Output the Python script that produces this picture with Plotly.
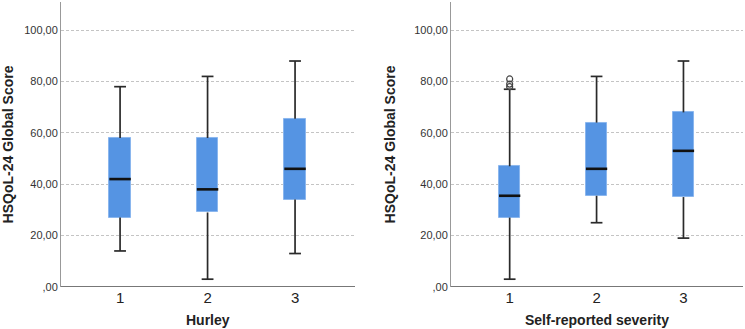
import plotly.graph_objects as go

# ---- data ----
groups = ["1", "2", "3"]
hurley_low = [14, 3, 13]
hurley_q1 = [27, 29, 34]
hurley_med = [42, 38, 46]
hurley_q3 = [58, 58, 65.5]
hurley_high = [78, 82, 88]
hurley_outliers = [[], [], []]

sev_low = [3, 25, 19]
sev_q1 = [27, 35.5, 35]
sev_med = [35.5, 46, 53]
sev_q3 = [47, 64, 68]
sev_high = [77, 82, 88]
sev_outliers = [[78, 79, 81], [], []]

ytick_vals = [0, 20, 40, 60, 80, 100]
ytick_text = [",00", "20,00", "40,00", "60,00", "80,00", "100,00"]

BOX_W = 0.245
CAP_W = 0.135
FILL = "#5594e3"
EDGE = "#8ab6ee"
WHISK = "#2a2a2a"

fig = go.Figure()

def add_panel(low, q1, med, q3, high, outl, xa, ya):
    xs = [i + 1 for i in range(len(groups))]
    wx, wy = [], []
    for x, lo, a, b, hi in zip(xs, low, q1, q3, high):
        wx += [x, x, None, x, x, None]
        wy += [lo, a, None, b, hi, None]
    fig.add_trace(go.Scatter(x=wx, y=wy, mode="lines", line=dict(color=WHISK, width=1.7),
                             xaxis=xa, yaxis=ya, showlegend=False, hoverinfo="skip"))
    cx, cy = [], []
    for x, lo, hi in zip(xs, low, high):
        cx += [x - CAP_W / 2, x + CAP_W / 2, None, x - CAP_W / 2, x + CAP_W / 2, None]
        cy += [lo, lo, None, hi, hi, None]
    fig.add_trace(go.Scatter(x=cx, y=cy, mode="lines", line=dict(color=WHISK, width=1.7),
                             xaxis=xa, yaxis=ya, showlegend=False, hoverinfo="skip"))
    fig.add_trace(go.Bar(x=xs, y=[b - a for a, b in zip(q1, q3)], base=q1, width=BOX_W,
                         marker=dict(color=FILL, line=dict(color=EDGE, width=1)),
                         xaxis=xa, yaxis=ya, showlegend=False, hoverinfo="skip"))
    mx, my = [], []
    for x, m in zip(xs, med):
        mx += [x - BOX_W / 2, x + BOX_W / 2, None]
        my += [m, m, None]
    fig.add_trace(go.Scatter(x=mx, y=my, mode="lines", line=dict(color="#111", width=2.6),
                             xaxis=xa, yaxis=ya, showlegend=False, hoverinfo="skip"))
    ox, oy = [], []
    for x, vals in zip(xs, outl):
        for v in vals:
            ox.append(x)
            oy.append(v)
    if ox:
        fig.add_trace(go.Scatter(x=ox, y=oy, mode="markers",
                                 marker=dict(symbol="circle-open", size=6, color="#444", line=dict(width=1.2)),
                                 xaxis=xa, yaxis=ya, showlegend=False, hoverinfo="skip"))

add_panel(hurley_low, hurley_q1, hurley_med, hurley_q3, hurley_high, hurley_outliers, "x", "y")
add_panel(sev_low, sev_q1, sev_med, sev_q3, sev_high, sev_outliers, "x2", "y2")

FONT = "Liberation Sans, Arial, sans-serif"
xcommon = dict(range=[0.325, 3.685], tickvals=[1, 2, 3], ticktext=groups, showgrid=False,
               zeroline=False, showline=False, ticks="", automargin=False,
               tickfont=dict(size=15, color="#222", family=FONT))
ycommon = dict(range=[0, 111], tickvals=ytick_vals, ticktext=ytick_text,
               showgrid=True, gridcolor="#c4c4c4", griddash="3px,2px", gridwidth=1,
               zeroline=True, zerolinecolor="#777", zerolinewidth=1.2,
               showline=True, linecolor="#999", linewidth=1, ticks="", automargin=False,
               tickfont=dict(size=11, color="#333", family=FONT))

XD1 = [0.0819, 0.4765]
XD2 = [0.6054, 0.9973]
YD = [0.128, 0.994]

fig.update_layout(
    width=745, height=329, margin=dict(l=0, r=0, t=0, b=0),
    paper_bgcolor="white", plot_bgcolor="white", bargap=0,
    xaxis=dict(domain=XD1, anchor="y", **xcommon),
    yaxis=dict(domain=YD, anchor="x", **ycommon),
    xaxis2=dict(domain=XD2, anchor="y2", **xcommon),
    yaxis2=dict(domain=YD, anchor="x2", **ycommon),
)

tfont = dict(size=14, color="#222", family=FONT)
for text, x in [("<b>Hurley</b>", sum(XD1) / 2), ("<b>Self-reported severity</b>", sum(XD2) / 2)]:
    fig.add_annotation(text=text, xref="paper", yref="paper", x=x, y=1 - 320 / 329,
                       showarrow=False, font=tfont, xanchor="center", yanchor="middle")
for x in [8 / 745, 390 / 745]:
    fig.add_annotation(text="<b>HSQoL-24 Global Score</b>", xref="paper", yref="paper",
                       x=x, y=sum(YD) / 2, textangle=-90, showarrow=False, font=tfont,
                       xanchor="center", yanchor="middle")

fig.write_html("out.html", config={"displayModeBar": False},
               post_script="document.body.style.margin='0px';document.body.style.overflow='hidden';")
